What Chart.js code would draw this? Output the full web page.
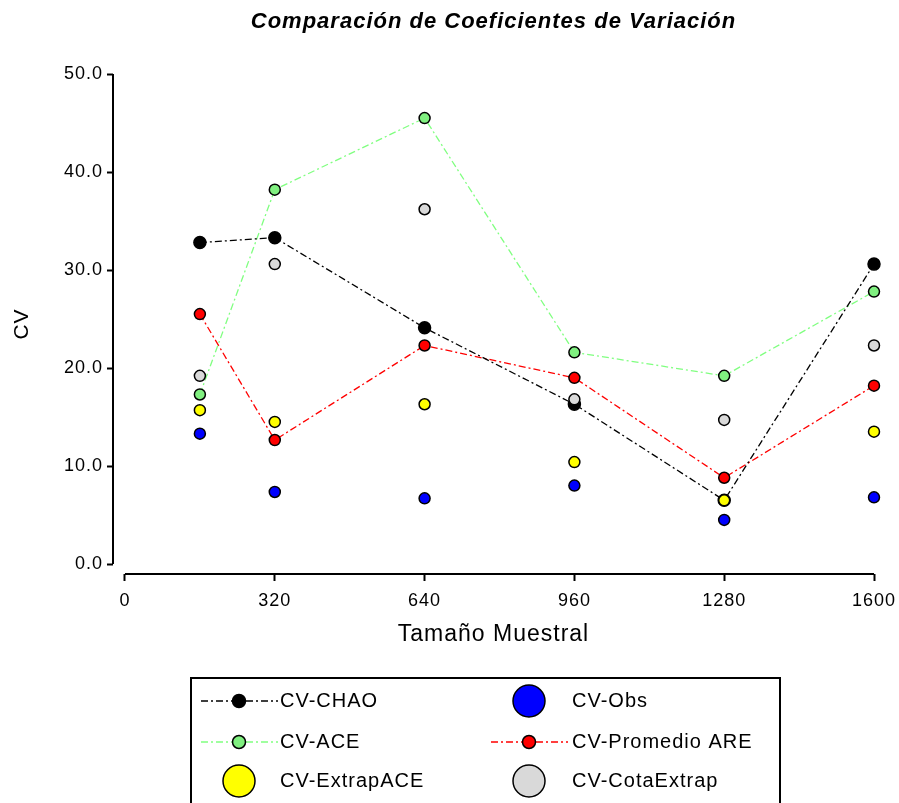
<!DOCTYPE html>
<html>
<head>
<meta charset="utf-8">
<script src="https://cdn.jsdelivr.net/npm/chart.js@4/dist/chart.umd.min.js"></script>
<style>
    html, body { margin: 0; padding: 0; background: #fff; }
    canvas { display: block; }
</style>
</head>
<body>
<canvas id="cv-chart" width="899" height="803"></canvas>
<script>
// datos
const tamanos = [160, 320, 640, 960, 1280, 1600];
const cvChao = [32.8, 33.3, 24.1, 16.3, 6.5, 30.6];
const cvObs = [13.3, 7.35, 6.7, 8.0, 4.5, 6.8];
const cvAce = [17.3, 38.2, 45.5, 21.6, 19.2, 27.8];
const cvPromedioAre = [25.5, 12.65, 22.3, 19.0, 8.8, 18.2];
const cvExtrapAce = [15.7, 14.5, 16.3, 10.4, 6.5, 13.5];
const cvCotaExtrap = [19.2, 30.6, 36.2, 16.8, 14.7, 22.3];

const xTicks = [0, 320, 640, 960, 1280, 1600];
const yTicks = [0, 10, 20, 30, 40, 50];

const FONT = '"Liberation Sans", Arial, Helvetica, sans-serif';
const DASH = [7, 3, 2, 3];

Chart.defaults.font.family = FONT;
Chart.defaults.color = '#000';

function toPoints(values) {
    return tamanos.map((x, i) => ({ x: x, y: values[i] }));
}

function lineSeries(label, values, color, markerColor, radius) {
    return {
        label: label,
        data: toPoints(values),
        showLine: true,
        borderColor: color,
        borderWidth: 1.3,
        borderDash: DASH,
        pointRadius: radius,
        pointBackgroundColor: markerColor,
        pointBorderColor: '#000',
        pointBorderWidth: 1.5,
        clip: false,
        order: 1,
        legendLine: true
    };
}

function dotSeries(label, values, color) {
    return {
        label: label,
        data: toPoints(values),
        showLine: false,
        borderColor: '#000',
        pointRadius: 5.5,
        pointBackgroundColor: color,
        pointBorderColor: '#000',
        pointBorderWidth: 1.5,
        clip: false,
        order: 0,
        legendLine: false
    };
}

// ejes desplazados + leyenda con recuadro (dos columnas)
const boxLegend = {
    id: 'boxLegend',
    beforeDraw(chart) {
        chart.ctx.letterSpacing = '1px';
    },
    afterDraw(chart) {
        const ctx = chart.ctx;
        const xs = chart.scales.x;
        const ys = chart.scales.y;

        ctx.save();
        ctx.strokeStyle = '#000';
        ctx.lineWidth = 2;
        ctx.beginPath();
        ctx.moveTo(chart.chartArea.left, ys.getPixelForValue(50));
        ctx.lineTo(chart.chartArea.left, ys.getPixelForValue(0));
        ctx.moveTo(xs.getPixelForValue(0), chart.chartArea.bottom);
        ctx.lineTo(xs.getPixelForValue(1600), chart.chartArea.bottom);
        ctx.stroke();

        ctx.lineWidth = 2;
        ctx.strokeRect(191, 678, 589, 150);

        const cols = [{ c: 239, tx: 280 }, { c: 529, tx: 572 }];
        const rows = [701, 742, 781];
        chart.data.datasets.forEach((ds, i) => {
            const col = cols[i % 2];
            const y = rows[Math.floor(i / 2)];
            if (ds.legendLine) {
                ctx.strokeStyle = ds.borderColor;
                ctx.lineWidth = 1.3;
                ctx.setLineDash(DASH);
                ctx.beginPath();
                ctx.moveTo(col.c - 38, y);
                ctx.lineTo(col.c + 39, y);
                ctx.stroke();
                ctx.setLineDash([]);
                ctx.beginPath();
                ctx.arc(col.c, y, 6.5, 0, Math.PI * 2);
            } else {
                ctx.beginPath();
                ctx.arc(col.c, y, 16, 0, Math.PI * 2);
            }
            ctx.fillStyle = ds.pointBackgroundColor;
            ctx.fill();
            ctx.strokeStyle = '#000';
            ctx.lineWidth = 1.5;
            ctx.stroke();

            ctx.fillStyle = '#000';
            ctx.font = '20px ' + FONT;
            ctx.textAlign = 'left';
            ctx.textBaseline = 'middle';
            ctx.fillText(ds.label, col.tx, y);
        });
        ctx.restore();
    }
};

new Chart(document.getElementById('cv-chart'), {
    type: 'line',
    data: {
        datasets: [
            lineSeries('CV-CHAO', cvChao, '#000000', '#000000', 6),
            dotSeries('CV-Obs', cvObs, '#0000ff'),
            lineSeries('CV-ACE', cvAce, '#80ff80', '#80f080', 5.5),
            lineSeries('CV-Promedio ARE', cvPromedioAre, '#ff0000', '#ff0000', 5.5),
            dotSeries('CV-ExtrapACE', cvExtrapAce, '#ffff00'),
            dotSeries('CV-CotaExtrap', cvCotaExtrap, '#d9d9d9')
        ]
    },
    options: {
        responsive: false,
        devicePixelRatio: 1,
        animation: false,
        layout: { padding: { left: 0, right: 25, top: 0, bottom: 149 } },
        plugins: {
            legend: { display: false },
            tooltip: { enabled: false },
            title: {
                display: true,
                fullSize: false,
                text: 'Comparación de Coeficientes de Variación',
                color: '#000',
                font: { size: 22, style: 'italic', weight: 'bold' },
                padding: { top: 9, bottom: 38.6 }
            }
        },
        scales: {
            x: {
                type: 'linear',
                min: -25.6,
                max: 1600,
                afterBuildTicks: s => { s.ticks = xTicks.map(v => ({ value: v })); },
                afterFit: s => {
                    s.height = 80;
                    s.paddingLeft = 0;
                    s.paddingRight = 0;
                },
                grid: { display: true, drawOnChartArea: false, drawTicks: true, tickLength: 7, tickColor: '#000', tickWidth: 2 },
                border: { display: false },
                ticks: {
                    color: '#000',
                    font: { size: 18 },
                    padding: 9,
                    maxRotation: 0,
                    autoSkip: false,
                    callback: v => String(v)
                },
                title: { display: true, text: 'Tamaño Muestral', color: '#000', font: { size: 23 }, padding: { top: 0, bottom: 6 } }
            },
            y: {
                type: 'linear',
                min: -1.02,
                max: 50,
                afterBuildTicks: s => { s.ticks = yTicks.map(v => ({ value: v })); },
                afterFit: s => { s.width = 113; },
                grid: { display: true, drawOnChartArea: false, drawTicks: true, tickLength: 6, tickColor: '#000', tickWidth: 2 },
                border: { display: false },
                ticks: {
                    color: '#000',
                    font: { size: 18 },
                    padding: 4,
                    callback: v => v.toFixed(1)
                },
                title: { display: true, text: 'CV', color: '#000', font: { size: 21 }, padding: { top: 10, bottom: 0 } }
            }
        }
    },
    plugins: [boxLegend]
});
</script>
</body>
</html>
